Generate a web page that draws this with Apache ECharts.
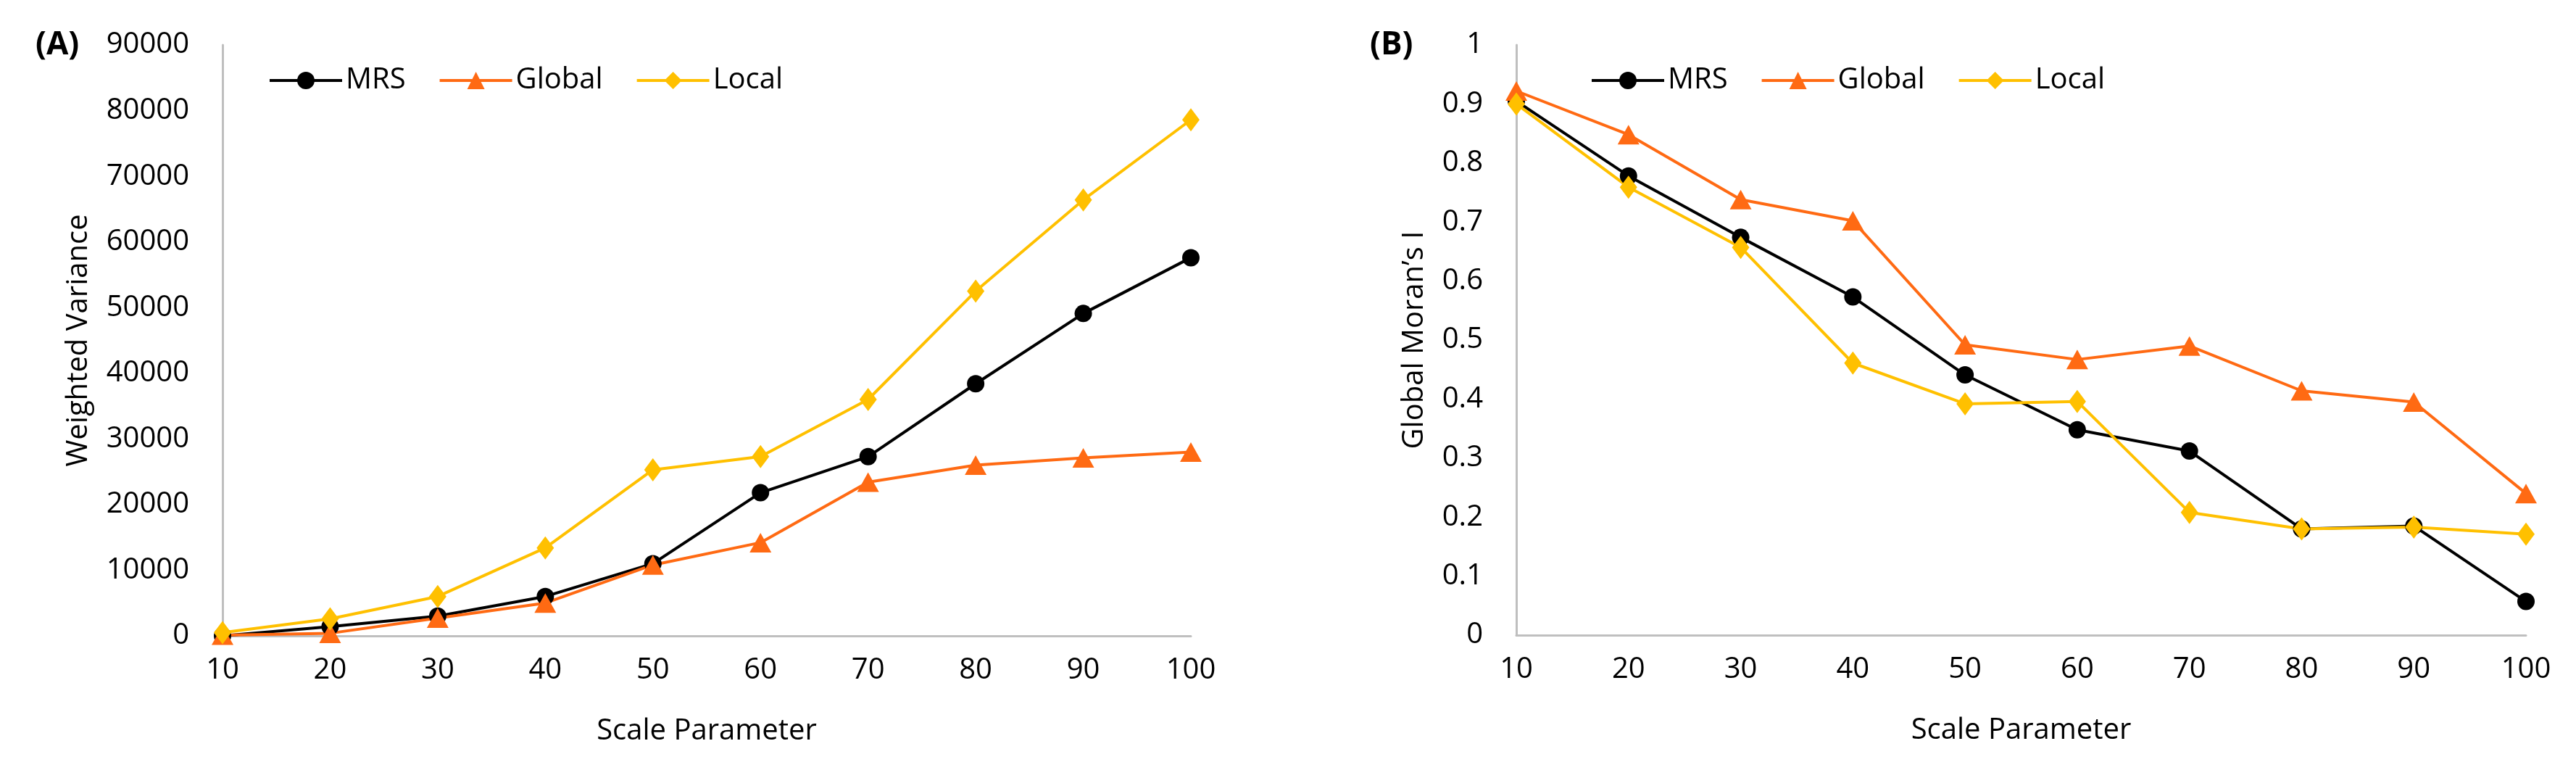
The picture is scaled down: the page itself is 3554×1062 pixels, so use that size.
<!DOCTYPE html>
<html>
<head>
<meta charset="utf-8">
<script src="https://cdn.jsdelivr.net/npm/echarts@6/dist/echarts.min.js"></script>
<style>
html,body{margin:0;padding:0;background:#fff;}
#chart{width:3554px;height:1062px;}
</style>
</head>
<body>
<div id="chart"></div>
<script>
// ---- data ----
const scaleParams = ['10','20','30','40','50','60','70','80','90','100'];
const seriesNames = ['MRS','Global','Local'];
// Panel (A) Weighted Variance
const varMRS    = [0, 1400, 3000, 6000, 11000, 21800, 27300, 38400, 49100, 57600];
const varGlobal = [100, 400, 2700, 5000, 10800, 14200, 23400, 26000, 27100, 28000];
const varLocal  = [500, 2600, 6000, 13400, 25300, 27300, 36000, 52500, 66400, 78600];
// Panel (B) Global Moran's I
const moranMRS    = [0.905, 0.778, 0.674, 0.573, 0.441, 0.348, 0.312, 0.180, 0.185, 0.057];
const moranGlobal = [0.922, 0.848, 0.738, 0.702, 0.492, 0.467, 0.490, 0.414, 0.395, 0.240];
const moranLocal  = [0.900, 0.759, 0.657, 0.461, 0.392, 0.396, 0.208, 0.180, 0.183, 0.171];
// axis settings
const varAxis = {min: 0, max: 90000, interval: 10000};
const moranAxis = {min: 0, max: 1, interval: 0.1};

const FONT = 'Open Sans';
const colors = {MRS: '#000000', Global: '#FF6A13', Local: '#FFC000'};
const symbols = {MRS: 'circle', Global: 'triangle', Local: 'diamond'};
const symbolSizes = {MRS: 24, Global: [30, 27], Local: [24, 32]};

const chart = echarts.init(document.getElementById('chart'), null, {renderer: 'canvas'});

function xAxisFor(gridIndex) {
  return {
    type: 'category', gridIndex, data: scaleParams, boundaryGap: false,
    name: 'Scale Parameter', nameLocation: 'middle', nameGap: 112,
    nameTextStyle: {fontFamily: FONT, fontSize: 40, color: '#000'},
    axisLine: {show: true, lineStyle: {color: '#BFBFBF', width: 3}},
    axisTick: {show: false},
    axisLabel: {fontFamily: FONT, fontSize: 40, color: '#000', margin: 28},
    splitLine: {show: false}
  };
}
function yAxisFor(gridIndex, range, name, gap, fmt) {
  return {
    type: 'value', gridIndex, min: range.min, max: range.max, interval: range.interval,
    name, nameLocation: 'middle', nameGap: gap, nameRotate: 90,
    nameTextStyle: {fontFamily: FONT, fontSize: 40, color: '#000'},
    axisLine: {show: true, lineStyle: {color: '#BFBFBF', width: 3}},
    axisTick: {show: false},
    axisLabel: {fontFamily: FONT, fontSize: 40, color: '#000', margin: 46, formatter: fmt},
    splitLine: {show: false}
  };
}
function mkSeries(name, data, idx) {
  return {
    name, type: 'line', data, xAxisIndex: idx, yAxisIndex: idx,
    symbol: symbols[name], symbolSize: symbolSizes[name], showAllSymbol: true,
    clip: false,
    lineStyle: {color: colors[name], width: 4},
    itemStyle: {color: colors[name]},
    emphasis: {disabled: true}
  };
}
const legendCommon = {
  data: seriesNames, orient: 'horizontal', itemWidth: 100, itemHeight: 30, itemGap: 45,
  lineStyle: {width: 4},
  textStyle: {fontFamily: FONT, fontSize: 40, color: '#000'}, selectedMode: false
};

chart.setOption({
  animation: false,
  backgroundColor: '#ffffff',
  grid: [
    {left: 307, right: 3554 - 1643, top: 62, bottom: 1062 - 877},
    {left: 2092, right: 3554 - 3485, top: 62, bottom: 1062 - 876}
  ],
  legend: [
    Object.assign({left: 365, top: 86}, legendCommon),
    Object.assign({left: 2189, top: 86}, legendCommon)
  ],
  graphic: [
    {type: 'text', left: 49, top: 40, style: {text: '(A)', font: 'bold 44px "Open Sans"', fill: '#000'}},
    {type: 'text', left: 1890, top: 40, style: {text: '(B)', font: 'bold 44px "Open Sans"', fill: '#000'}}
  ],
  xAxis: [xAxisFor(0), xAxisFor(1)],
  yAxis: [
    yAxisFor(0, varAxis, 'Weighted Variance', 178, v => String(Math.round(v))),
    yAxisFor(1, moranAxis, 'Global Moran\u2019s I', 120, v => String(Number(v.toFixed(1))))
  ],
  series: [
    mkSeries('MRS', varMRS, 0),
    mkSeries('Global', varGlobal, 0),
    mkSeries('Local', varLocal, 0),
    mkSeries('MRS', moranMRS, 1),
    mkSeries('Global', moranGlobal, 1),
    mkSeries('Local', moranLocal, 1)
  ]
});
</script>
</body>
</html>
